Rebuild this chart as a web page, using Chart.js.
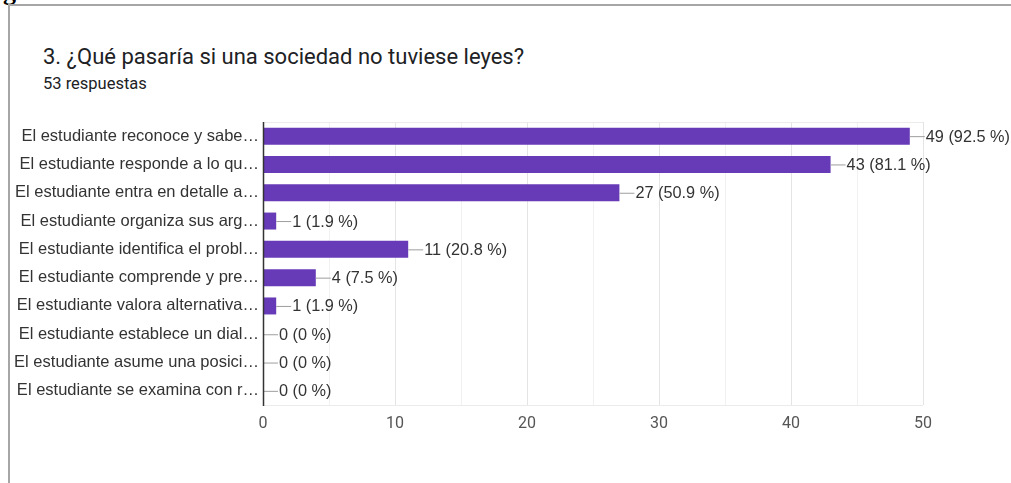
<!DOCTYPE html>
<html><head><meta charset="utf-8">
<script src="https://cdn.jsdelivr.net/npm/chart.js@4"></script>
<style>
html,body{margin:0;padding:0;background:#fff;width:1011px;height:483px;overflow:hidden;position:relative;}
#frame{position:absolute;left:8px;top:4px;width:1010px;height:490px;border-left:2px solid #a6a6a6;border-top:2px solid #a6a6a6;box-sizing:border-box;}
#g{position:absolute;left:3px;top:-21px;font:bold 26px "Liberation Serif",serif;color:#000;line-height:26px;}
#title{position:absolute;left:43px;top:44px;font:22px Roboto,sans-serif;color:#202124;white-space:nowrap;line-height:26px;}
#sub{position:absolute;left:43px;top:74px;font:16.5px Roboto,sans-serif;color:#202124;white-space:nowrap;line-height:20px;}
#c{position:absolute;left:0;top:0;}
</style></head><body>
<div id="g">g</div>
<div id="frame"></div>
<div id="title">3. ¿Qué pasaría si una sociedad no tuviese leyes?</div>
<div id="sub">53 respuestas</div>
<canvas id="c" width="1011" height="483"></canvas>
<script>
const categories = [
  "El estudiante reconoce y sabe…",
  "El estudiante responde a lo qu…",
  "El estudiante entra en detalle a…",
  "El estudiante organiza sus arg…",
  "El estudiante identifica el probl…",
  "El estudiante comprende y pre…",
  "El estudiante valora alternativa…",
  "El estudiante establece un dial…",
  "El estudiante asume una posici…",
  "El estudiante se examina con r…"
];
const counts = [49, 43, 27, 1, 11, 4, 1, 0, 0, 0];
const percentLabels = ["92.5 %", "81.1 %", "50.9 %", "1.9 %", "20.8 %", "7.5 %", "1.9 %", "0 %", "0 %", "0 %"];
const xTicks = [0, 10, 20, 30, 40, 50];

const labelPlugin = {
  id: 'barLabels',
  afterDatasetsDraw(chart) {
    const ctx = chart.ctx;
    const meta = chart.getDatasetMeta(0);
    ctx.save();
    ctx.font = '16.3px "Liberation Sans", Arial, sans-serif';
    ctx.textBaseline = 'middle';
    meta.data.forEach((bar, i) => {
      const x = bar.x, y = bar.y;
      ctx.strokeStyle = '#9e9e9e';
      ctx.lineWidth = 1;
      ctx.beginPath();
      ctx.moveTo(x, y + 0.5);
      ctx.lineTo(x + 15, y + 0.5);
      ctx.stroke();
      ctx.fillStyle = '#333';
      ctx.fillText(counts[i] + ' (' + percentLabels[i] + ')', x + 16, y + 1);
    });
    ctx.restore();
  },
  beforeDatasetsDraw(chart) {
    const a = chart.chartArea, ctx = chart.ctx;
    ctx.save();
    ctx.strokeStyle = '#ebebeb';
    ctx.lineWidth = 1;
    ctx.beginPath();
    ctx.moveTo(a.left, a.top + 0.5); ctx.lineTo(a.right, a.top + 0.5);
    ctx.moveTo(a.left, a.bottom + 0.5); ctx.lineTo(a.right, a.bottom + 0.5);
    ctx.stroke();
    ctx.restore();
  },
  afterDraw(chart) {
    const a = chart.chartArea, ctx = chart.ctx;
    ctx.save();
    ctx.strokeStyle = '#333';
    ctx.lineWidth = 1.5;
    ctx.beginPath();
    ctx.moveTo(a.left + 0.5, a.top); ctx.lineTo(a.left + 0.5, a.bottom + 1);
    ctx.stroke();
    ctx.restore();
  }
};

new Chart(document.getElementById('c'), {
  type: 'bar',
  data: {
    labels: categories,
    datasets: [{
      data: counts,
      backgroundColor: '#673ab7',
      borderWidth: 0,
      categoryPercentage: 0.6,
      barPercentage: 1.0
    }]
  },
  options: {
    indexAxis: 'y',
    responsive: false,
    animation: false,
    layout: { padding: { top: 122, right: 88, bottom: 0, left: 0 } },
    plugins: { legend: { display: false }, tooltip: { enabled: false } },
    scales: {
      x: {
        min: 0, max: 50,
        afterFit(s) { s.height = 78; },
        ticks: {
          stepSize: 5,
          padding: 9,
          color: '#555',
          font: { family: 'Roboto, sans-serif', size: 16 },
          callback: (v) => (xTicks.includes(v) ? String(v) : '')
        },
        grid: {
          color: (c) => (c.tick && c.tick.value % 10 === 0 ? '#e4e4e4' : '#f1f1f1'),
          drawTicks: false
        },
        border: { display: false }
      },
      y: {
        afterFit(s) { s.width = 263; },
        ticks: {
          color: '#333',
          padding: 4,
          autoSkip: false,
          font: { family: '"Liberation Sans", Arial, sans-serif', size: 16.5 }
        },
        grid: { display: false, drawTicks: false },
        border: { display: false }
      }
    }
  },
  plugins: [labelPlugin]
});
</script>
</body></html>
